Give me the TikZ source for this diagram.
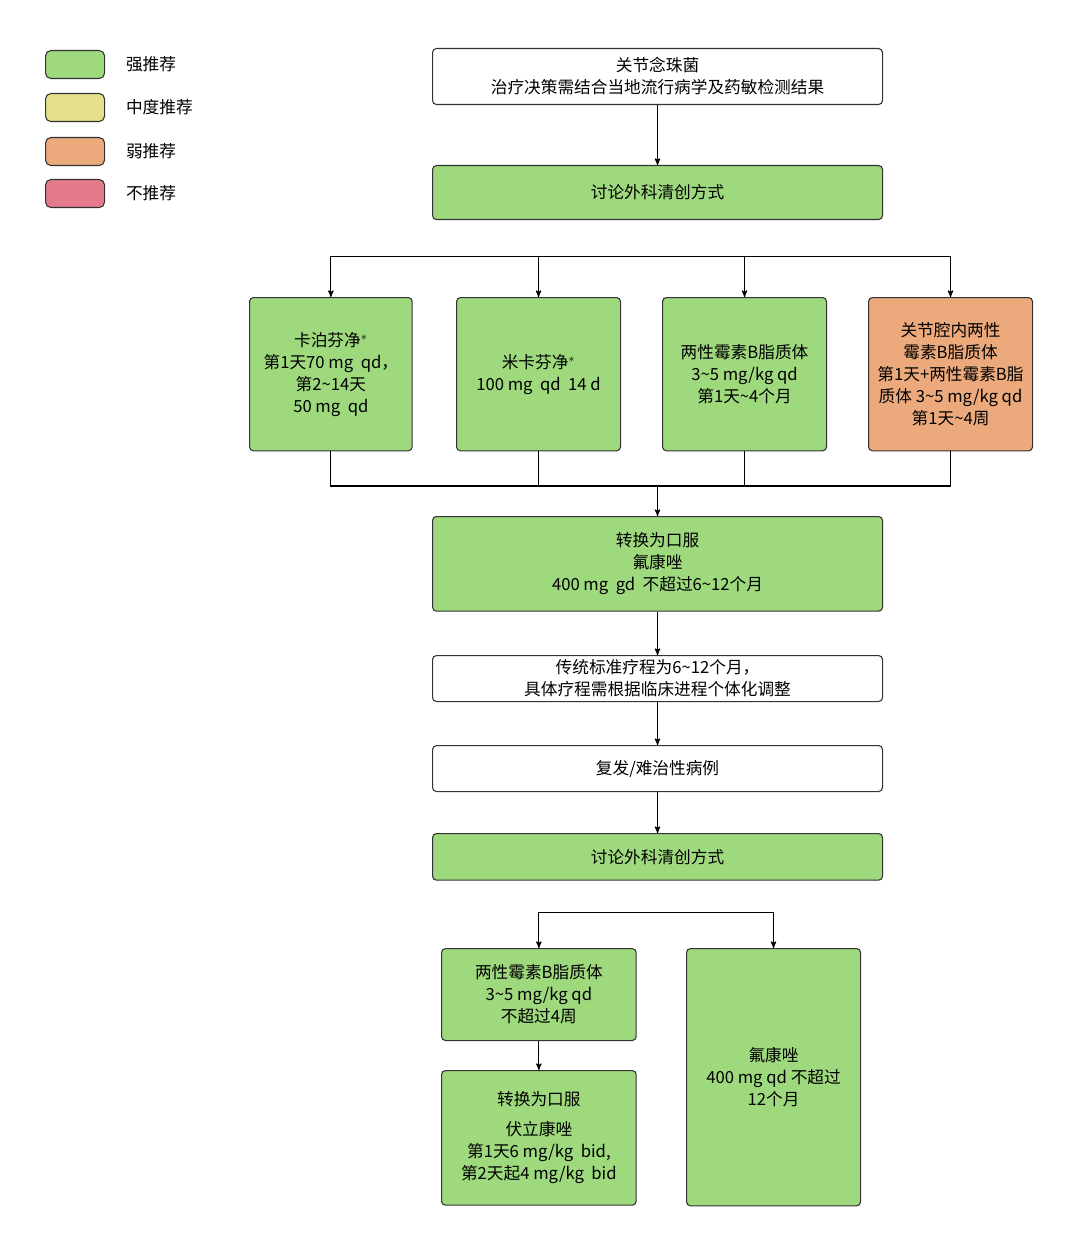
\documentclass[tikz,border=0pt]{standalone}
\usepackage{fontspec}
\setmainfont{Liberation Serif}
\newfontfamily\cjk{Noto Sans CJK SC}
\usetikzlibrary{arrows,calc,positioning}
\definecolor{my_green}{RGB}{158,217,126}
\definecolor{my_yellow}{RGB}{230,223,142}
\definecolor{my_orange}{RGB}{235,169,124}
\definecolor{my_pink}{RGB}{229,122,141}
\tikzset{
  box/.style = {draw=black!80, thick, rounded corners=3pt, align=center, inner sep=2pt,
  font=\cjk\fontsize{12.5}{16.5}\selectfont, anchor=north west},
  strong/.style = {box, fill=my_green},
  weak/.style = {box, fill=my_orange},
  plain/.style = {box, fill=white},
  legend/.style = {draw=black!80, thick, rounded corners=4pt, minimum width=44.25pt, minimum height=21pt, anchor=north west}
}
\begin{document}
\begin{tikzpicture}[x=0.75pt,y=-0.75pt,->,>=stealth',thick]
  \useasboundingbox (0,0) rectangle (1066,1241);
  % legend
  \node [legend, fill=my_green] (l1) at (45,50) {};
  \node [legend, fill=my_yellow] (l2) at (45,93) {};
  \node [legend, fill=my_orange] (l3) at (45,137) {};
  \node [legend, fill=my_pink] (l4) at (45,179) {};
  \foreach \n/\t in {l1/强推荐,l2/中度推荐,l3/弱推荐,l4/不推荐}
    \node [right=12pt of \n, font=\cjk\fontsize{12.5}{14}\selectfont] {\t};
  % main flow
  \node [plain, minimum width=337.5pt, minimum height=42pt] (start) at (432,48)
    {关节念珠菌\\治疗决策需结合当地流行病学及药敏检测结果};
  \node [strong, minimum width=337.5pt, minimum height=40.5pt] (surg) at (432,165) {讨论外科清创方式};
  \node [strong, minimum width=122pt, minimum height=115pt] (casp) at (249,297)
    {卡泊芬净$^{*}$\\第1天70 mg\ \ qd，\\第2\textasciitilde14天\\50 mg\ \ qd};
  \node [strong, minimum width=123pt, minimum height=115pt] (mica) at (456,297)
    {米卡芬净$^{*}$\\100 mg\ \ qd\ \ 14 d};
  \node [strong, minimum width=123pt, minimum height=115pt] (ampb) at (662,297)
    {两性霉素B脂质体\\3\textasciitilde5 mg/kg qd\\第1天\textasciitilde4个月};
  \node [weak, minimum width=123pt, minimum height=115pt] (intra) at (868,297)
    {关节腔内两性\\霉素B脂质体\\第1天+两性霉素B脂\\质体 3\textasciitilde5 mg/kg qd\\第1天\textasciitilde4周};
  \node [strong, minimum width=337.5pt, minimum height=71pt] (oral) at (432,516)
    {转换为口服\\氟康唑\\400 mg\ \ gd\ \ 不超过6\textasciitilde12个月};
  \node [plain, minimum width=337.5pt, minimum height=34.5pt] (course) at (432,655)
    {传统标准疗程为6\textasciitilde12个月，\\具体疗程需根据临床进程个体化调整};
  \node [plain, minimum width=337.5pt, minimum height=34.5pt] (relap) at (432,745) {复发/难治性病例};
  \node [strong, minimum width=337.5pt, minimum height=35pt] (surg2) at (432,833) {讨论外科清创方式};
  \node [strong, minimum width=146pt, minimum height=69pt] (ampb2) at (441,948)
    {两性霉素B脂质体\\3\textasciitilde5 mg/kg qd\\不超过4周};
  \node [strong, minimum width=146pt, minimum height=101pt] (vori) at (441,1070)
    {转换为口服\\[6pt]伏立康唑\\第1天6 mg/kg\ \ bid,\\第2天起4 mg/kg\ \ bid};
  \node [strong, minimum width=130.5pt, minimum height=193pt] (fluc) at (686,948)
    {氟康唑\\400 mg qd 不超过\\12个月};
  % connectors
  \draw (start) -- (surg);
  \coordinate (s1) at ($(surg.south)+(0,36)$);
  \foreach \b in {casp,mica,ampb,intra}
    \draw (s1) -| (\b.north);
  \coordinate (j1) at ($(oral.north)+(0,-30)$);
  \foreach \b in {casp,mica,ampb,intra}
    \draw [-] (\b.south) |- (j1);
  \draw (j1) -- (oral);
  \draw (oral) -- (course);
  \draw (course) -- (relap);
  \draw (relap) -- (surg2);
  \coordinate (s2) at ($(surg2.south)+(0,32)$);
  \draw (s2) -| (ampb2.north);
  \draw (s2) -| (fluc.north);
  \draw (ampb2) -- (vori);
\end{tikzpicture}
\end{document}
